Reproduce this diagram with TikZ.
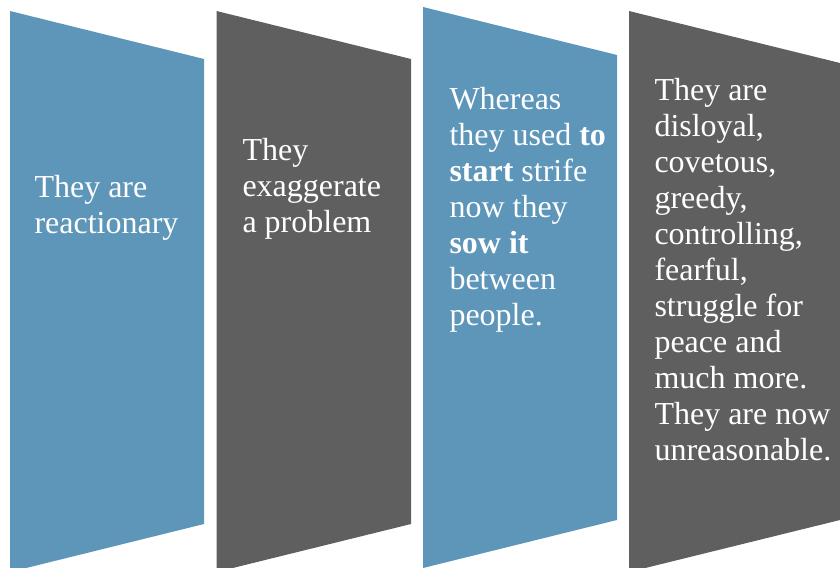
\documentclass[tikz,border=0pt]{standalone}
\usepackage{fontspec}
\setmainfont{Liberation Serif}
\definecolor{panelblue}{RGB}{94,150,186}
\definecolor{panelgray}{RGB}{95,95,95}
\tikzset{every picture/.style={line width=0.75pt}}
\tikzset{paneltext/.style={anchor=north west,inner sep=0.75pt,align=left,text=white,font={\fontsize{24}{27}\selectfont}}}
\newcommand{\firstline}{\rule{0pt}{18.75pt}}

\begin{document}
\begin{tikzpicture}[x=0.75pt,y=0.75pt,yscale=-1,xscale=1]
\useasboundingbox (0,0) rectangle (840,568);
\clip (0,0) rectangle (840,568);

%Shape: Panel [id:reactionary]
\fill [panelblue] (10,11) -- (204,59) -- (204,524) -- (10,572) -- cycle ;
%Shape: Panel [id:exaggerate]
\fill [panelgray] (216.5,11) -- (411,59) -- (411,524) -- (216.5,572) -- cycle ;
%Shape: Panel [id:strife]
\fill [panelblue] (423,7) -- (617,55) -- (617,520) -- (423,568) -- cycle ;
%Shape: Panel [id:unreasonable]
\fill [panelgray] (629,11) -- (840,63) -- (840,520) -- (629,572) -- cycle ;

% Text Node
\draw (33,171) node (txtreact) [paneltext] {\firstline They are\\reactionary};
% Text Node
\draw (241,134) node (txtexag) [paneltext] {\firstline They\\exaggerate\\a problem};
% Text Node
\draw (448,83) node (txtstrife) [paneltext] {\firstline Whereas\\they used \textbf{to}\\\textbf{start} strife\\now they\\\textbf{sow it}\\between\\people.};
% Text Node
\draw (653,74) node (txtunreas) [paneltext] {\firstline They are\\disloyal,\\covetous,\\greedy,\\controlling,\\fearful,\\struggle for\\peace and\\much more.\\They are now\\unreasonable.};

\end{tikzpicture}
\end{document}
